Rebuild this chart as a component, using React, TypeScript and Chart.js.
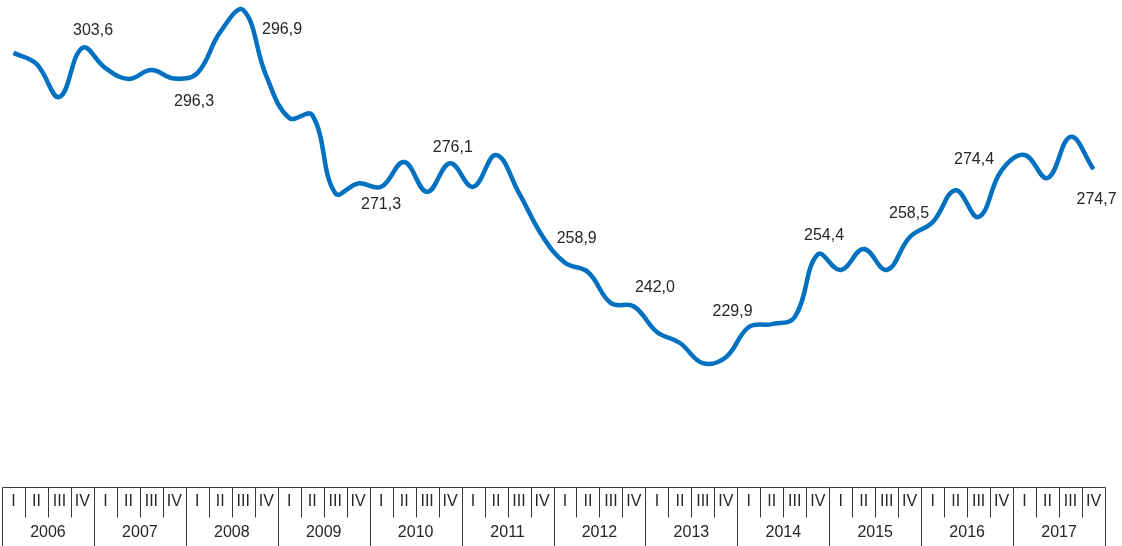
import { useEffect, useRef } from 'react';
import { Chart, registerables } from 'chart.js';

Chart.register(...registerables);

const years = ['2006', '2007', '2008', '2009', '2010', '2011', '2012', '2013', '2014', '2015', '2016', '2017'];
const quarters = ['I', 'II', 'III', 'IV'];

// Quarterly values, 2006 I .. 2017 IV
const values = [
  302.4, 299.8, 291.9, 303.6,
  298.8, 296.2, 298.3, 296.3,
  297.6, 307.4, 312.6, 296.9,
  286.9, 287.6, 269.0, 271.3,
  270.5, 276.4, 269.3, 276.1,
  270.5, 278.1, 269.0, 258.9,
  252.4, 250.2, 242.8, 242.0,
  235.9, 233.3, 228.5, 229.9,
  237.1, 237.8, 239.5, 254.4,
  250.7, 255.7, 250.7, 258.5,
  262.1, 269.7, 263.3, 274.4,
  278.1, 272.6, 282.4, 274.7,
];

const yMin = 199;
const yMax = 315;

// label placement (pixel offsets from the Q IV point of each year)
const labelOffsets: [number, number][] = [
  [10.6, -17], [19.7, 23], [15.8, -46], [22.9, 21.5], [2.7, -16], [34.7, 3.5],
  [21, -19], [6.7, -45.6], [6.3, -18.4], [-0.6, -23.2], [-27.5, -10.4], [3, 30],
];

const categories = years.flatMap((y) => quarters.map((q) => `${q} ${y}`));

const FONT = '"Liberation Sans", Arial, sans-serif';

const quarterAxisPlugin = {
  id: 'quarterAxis',
  afterDraw(chart: any) {
    const ctx = chart.ctx;
    const xs = chart.scales.x;
    const area = chart.chartArea;
    const n = categories.length;
    const step = xs.getPixelForValue(1) - xs.getPixelForValue(0);
    const b = (k: number) => xs.getPixelForValue(0) - step / 2 + k * step;
    const top = Math.round(area.bottom) + 0.5;
    const qBottom = top + 30;
    const yBottom = chart.height;
    ctx.save();
    ctx.strokeStyle = '#3a3a3a';
    ctx.lineWidth = 1;
    ctx.beginPath();
    ctx.moveTo(Math.round(b(0)) + 0.5, top);
    ctx.lineTo(Math.round(b(n)) + 0.5, top);
    for (let k = 0; k <= n; k++) {
      const x = Math.round(b(k)) + 0.5;
      ctx.moveTo(x, top);
      ctx.lineTo(x, k % 4 === 0 ? yBottom : qBottom);
    }
    ctx.stroke();
    ctx.fillStyle = '#262626';
    ctx.font = `16px ${FONT}`;
    ctx.textAlign = 'center';
    ctx.textBaseline = 'middle';
    for (let k = 0; k < n; k++) {
      ctx.fillText(quarters[k % 4], (b(k) + b(k + 1)) / 2, top + 14);
    }
    for (let yi = 0; yi < years.length; yi++) {
      ctx.fillText(years[yi], (b(yi * 4) + b(yi * 4 + 4)) / 2, top + 45);
    }
    ctx.restore();
  },
};

const valueLabelPlugin = {
  id: 'valueLabels',
  afterDatasetsDraw(chart: any) {
    const ctx = chart.ctx;
    const xs = chart.scales.x;
    const ys = chart.scales.y;
    ctx.save();
    ctx.fillStyle = '#262626';
    ctx.font = `16px ${FONT}`;
    ctx.textAlign = 'center';
    ctx.textBaseline = 'middle';
    years.forEach((_, yi) => {
      const i = yi * 4 + 3;
      const v = values[i];
      const [dx, dy] = labelOffsets[yi];
      ctx.fillText(v.toFixed(1).replace('.', ','), xs.getPixelForValue(i) + dx, ys.getPixelForValue(v) + dy);
    });
    ctx.restore();
  },
};

export default function App() {
  const ref = useRef<HTMLCanvasElement | null>(null);
  useEffect(() => {
    if (!ref.current) return;
    const chart = new Chart(ref.current, {
      type: 'line',
      data: {
        labels: categories,
        datasets: [
          {
            data: values,
            borderColor: '#0070C0',
            borderWidth: 4.5,
            pointRadius: 0,
            tension: 0.4,
            fill: false,
            clip: false as any,
          },
        ],
      },
      options: {
        responsive: false,
        animation: false,
        devicePixelRatio: 1,
        layout: { padding: { left: 2, right: 17, top: 0, bottom: 59 } },
        plugins: { legend: { display: false }, tooltip: { enabled: false } },
        scales: {
          x: { type: 'category', offset: true, display: false },
          y: { type: 'linear', min: yMin, max: yMax, display: false },
        },
      },
      plugins: [quarterAxisPlugin, valueLabelPlugin],
    });
    return () => chart.destroy();
  }, []);
  return (
    <div style={{ position: 'fixed', left: 0, top: 0, width: 1122, height: 546, background: '#fff' }}>
      <canvas ref={ref} width={1122} height={546} style={{ display: 'block' }} />
    </div>
  );
}
